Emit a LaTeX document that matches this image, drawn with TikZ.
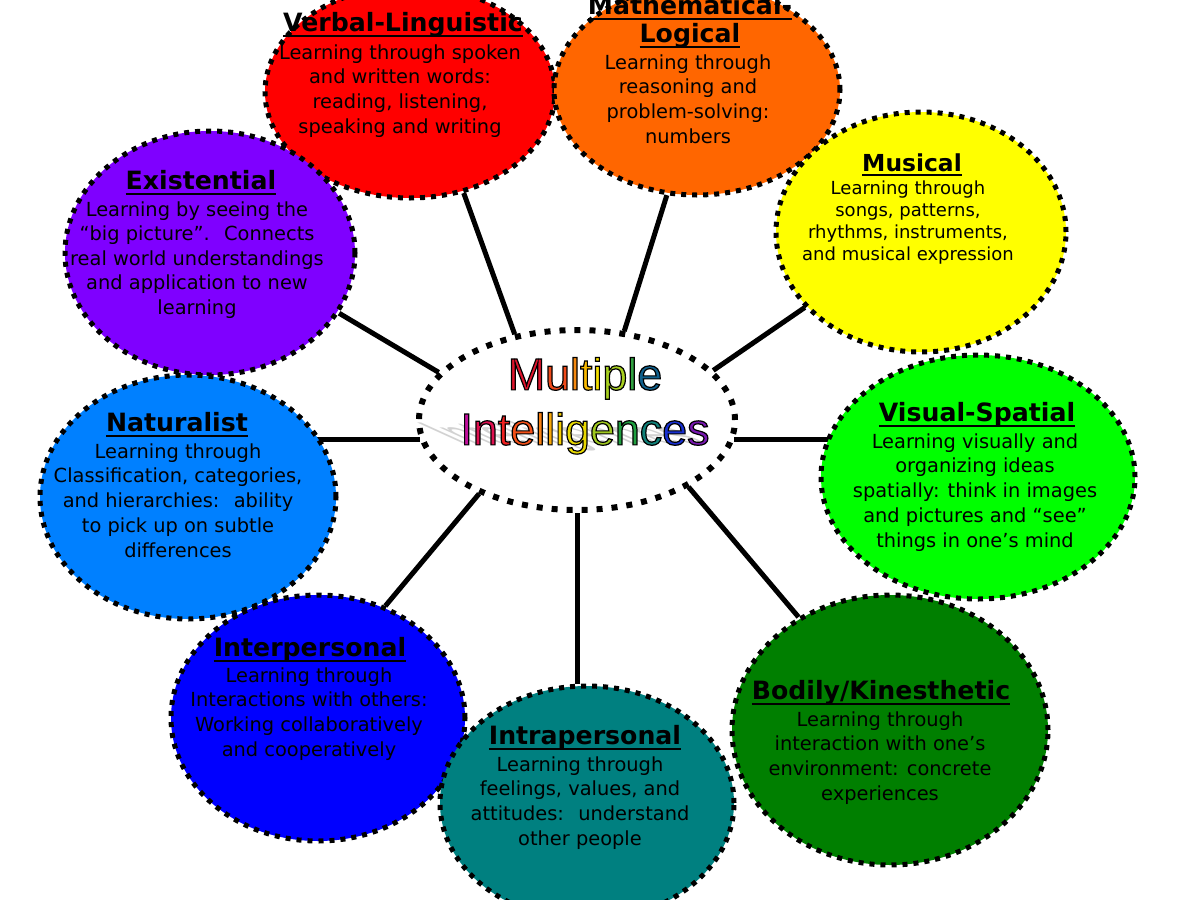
\documentclass[tikz,border=0pt]{standalone}
\usepackage{fontspec}
\setmainfont{DejaVu Sans}
\newfontfamily\mifont{Liberation Sans}
\usetikzlibrary{shapes.geometric,backgrounds}

\definecolor{verbalc}{HTML}{FF0000}
\definecolor{mathc}{HTML}{FF6600}
\definecolor{musicc}{HTML}{FFFF00}
\definecolor{existc}{HTML}{7F00FF}
\definecolor{naturc}{HTML}{0080FF}
\definecolor{visualc}{HTML}{00FF00}
\definecolor{interc}{HTML}{0000FF}
\definecolor{intrac}{HTML}{008080}
\definecolor{bodyc}{HTML}{007F00}

\definecolor{ma}{HTML}{E0142C}
\definecolor{mb}{HTML}{F04A1A}
\definecolor{mc}{HTML}{F78A10}
\definecolor{md}{HTML}{F8B800}
\definecolor{me}{HTML}{F4E000}
\definecolor{mf}{HTML}{A8D020}
\definecolor{mg}{HTML}{30A040}
\definecolor{mh}{HTML}{10608C}
\definecolor{mi1}{HTML}{C0109C}
\definecolor{mi2}{HTML}{E01050}
\definecolor{mi3}{HTML}{F02020}
\definecolor{mi4}{HTML}{F45018}
\definecolor{mi5}{HTML}{F88010}
\definecolor{mi6}{HTML}{F8A808}
\definecolor{mi7}{HTML}{F8D000}
\definecolor{mi8}{HTML}{E8D800}
\definecolor{mi9}{HTML}{A0C820}
\definecolor{mi10}{HTML}{20A040}
\definecolor{mi11}{HTML}{108078}
\definecolor{mi12}{HTML}{1830D0}
\definecolor{mi13}{HTML}{7818B0}

\newcommand\mil[2]{{\color{#1}\special{pdf:code 0 G 2 Tr 0.6 w}#2\special{pdf:code 0 Tr}}}
\newcommand\ttlu[1]{\setbox0\hbox{#1}\rlap{\vrule height -1.6pt depth 2.6pt width \wd0}\box0}

\begin{document}
\begin{tikzpicture}[x=0.5pt,y=-0.5pt,
    bubble/.style={ellipse,draw,line width=2.5pt,dash pattern=on 2.5pt off 3pt,inner sep=0pt},
    ttl/.style={align=center,inner sep=0pt,anchor=north,font=\fontsize{12.6}{14}\selectfont\bfseries},
    txt/.style={align=center,inner sep=0pt,anchor=north,font=\fontsize{9.7}{12.4}\selectfont},
    link/.style={line width=2.5pt}]
  \useasboundingbox (0,0) rectangle (1200,900);

  \node[bubble,fill=verbalc,minimum width=145pt,minimum height=106pt] (verbal) at (410,92) {};
  \node[bubble,fill=mathc,minimum width=143pt,minimum height=105pt] (math) at (697,90) {};
  \node[bubble,fill=musicc,minimum width=145pt,minimum height=120pt] (music) at (921,232) {};
  \node[bubble,fill=existc,minimum width=145pt,minimum height=122pt] (exist) at (210,253) {};
  \node[bubble,fill=naturc,minimum width=148pt,minimum height=122pt] (natur) at (188,497) {};
  \node[bubble,fill=visualc,minimum width=157pt,minimum height=122pt] (visual) at (978,477) {};
  \node[bubble,fill=interc,minimum width=147pt,minimum height=123pt] (inter) at (318,718) {};
  \node[bubble,fill=intrac,minimum width=147pt,minimum height=117pt] (intra) at (587,803) {};
  \node[bubble,fill=bodyc,minimum width=158pt,minimum height=135pt] (body) at (890,730) {};
  \node[bubble,fill=white,line width=3pt,dash pattern=on 3pt off 4.5pt,
        minimum width=158pt,minimum height=90pt] (mi) at (577,420) {};

  \node[ttl] (verbal-t) at (403,12) {\ttlu{Verbal-Linguistic}};
  \node[txt] (verbal-b) at (400,44) {Learning through spoken\\and written words:\\reading, listening,\\speaking and writing};

  \node[ttl] (math-t) at (690,-5) {\ttlu{Mathematical-}\\\ttlu{Logical}};
  \node[txt] (math-b) at (688,54) {Learning through\\reasoning and\\problem-solving:\\numbers};

  \node[ttl,font=\fontsize{11.7}{14}\selectfont\bfseries] (music-t) at (912,153) {\ttlu{Musical}};
  \node[txt,font=\fontsize{9}{11}\selectfont] (music-b) at (908,180) {Learning through\\songs, patterns,\\rhythms, instruments,\\and musical expression};

  \node[ttl] (exist-t) at (201,170) {\ttlu{Existential}};
  \node[txt,font=\fontsize{9.7}{12.25}\selectfont] (exist-b) at (197,201) {Learning by seeing the\\“big picture”.~ Connects\\real world understandings\\and application to new\\learning};

  \node[ttl] (natur-t) at (177,412) {\ttlu{Naturalist}};
  \node[txt] (natur-b) at (178,443) {Learning through\\Classification, categories,\\and hierarchies:~ ability\\to pick up on subtle\\differences};

  \node[ttl] (visual-t) at (977,402) {\ttlu{Visual-Spatial}};
  \node[txt] (visual-b) at (975,433) {Learning visually and\\organizing ideas\\spatially: think in images\\and pictures and “see”\\things in one’s mind};

  \node[ttl] (inter-t) at (310,637) {\ttlu{Interpersonal}};
  \node[txt] (inter-b) at (309,667) {Learning through\\Interactions with others:\\Working collaboratively\\and cooperatively};

  \node[ttl] (intra-t) at (585,725) {\ttlu{Intrapersonal}};
  \node[txt] (intra-b) at (580,756) {Learning through\\feelings, values, and\\attitudes:~ understand\\other people};

  \node[ttl] (body-t) at (881,680) {\ttlu{Bodily/Kinesthetic}};
  \node[txt] (body-b) at (880,711) {Learning through\\interaction with one’s\\environment: concrete\\experiences};

  \begin{scope}[shift={(585,444)},xslant=-2.2,yscale=0.7]
    \node[transform shape,anchor=base,inner sep=0pt,gray!35,font=\mifont\fontsize{22.4}{27.5}\selectfont] (mi-s) at (0,0) {Intelligences};
  \end{scope}
  \node[align=center,inner sep=0pt,anchor=north,font=\mifont\fontsize{22.4}{27.5}\selectfont] (mi-t) at (585,357)
    {\mil{ma}{M}\mil{mb}{u}\mil{mc}{l}\mil{md}{t}\mil{me}{i}\mil{mf}{p}\mil{mg}{l}\mil{mh}{e}\\
     \mil{mi1}{I}\mil{mi2}{n}\mil{mi3}{t}\mil{mi4}{e}\mil{mi5}{l}\mil{mi6}{l}\mil{mi7}{i}\mil{mi8}{g}\mil{mi9}{e}\mil{mi10}{n}\mil{mi11}{c}\mil{mi12}{e}\mil{mi13}{s}};

  \begin{scope}[on background layer]
    \draw[link] (mi.126) -- (verbal.298);
    \draw[link] (mi.62) -- (math.254);
    \draw[link] (mi.20) -- (music.213);
    \draw[link] (mi.161) -- (exist.335);
    \draw[link] (mi.187) -- (mi.187 -| natur.center);
    \draw[link] (mi.353) -- (mi.353 -| visual.center);
    \draw[link] (mi.217) -- (inter.59);
    \draw[link] (mi.south) -- (mi.south |- intra.north);
    \draw[link] (mi.329) -- (body.129);
  \end{scope}
\end{tikzpicture}
\end{document}
